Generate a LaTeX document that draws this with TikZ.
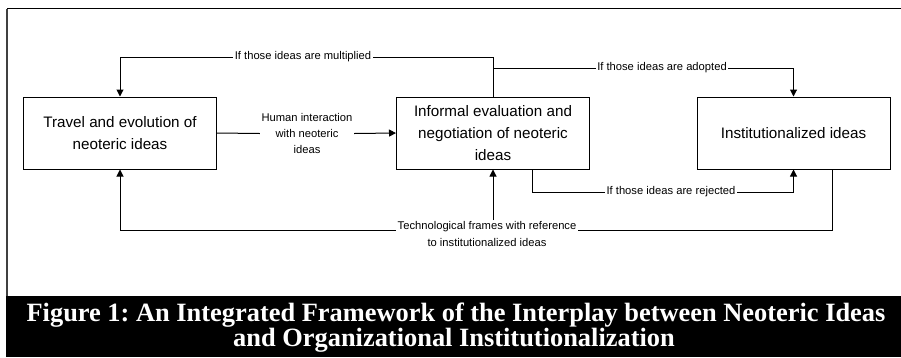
\documentclass[tikz,border=0pt]{standalone}
\usepackage{fontspec}
\setmainfont{Liberation Serif}
\newfontfamily\labelfont{Liberation Sans}
\usetikzlibrary{arrows.meta}
\frenchspacing

\begin{document}
\begin{tikzpicture}[x=1pt,y=-1pt,
  stagebox/.style={draw, line width=1pt, minimum width=193pt, minimum height=72pt,
    align=center, inner sep=0pt, font=\labelfont\fontsize{15.2}{22}\selectfont},
  flowlabel/.style={fill=white, inner sep=1.5pt, align=center,
    font=\labelfont\fontsize{11.2}{16.3}\selectfont},
  link/.style={line width=1pt},
  arr/.style={link, -{Triangle[length=7pt,width=7pt]}},
  captiontext/.style={text=white, anchor=base, inner sep=0pt,
    font=\bfseries\fontsize{26.4}{23}\selectfont}]

  \useasboundingbox (0,0) rectangle (901,357);

  % outer frame and caption band
  \draw[line width=1.5pt] (7,8.5) -- (901,8.5);
  \draw[line width=1.2pt, black!75] (7,8.5) -- (7,296);
  \fill[black] (6,296) rectangle (901,357);
  \node[captiontext] (cap1) at (456,321) {Figure 1: An Integrated Framework of the Interplay between Neoteric Ideas};
  \node[captiontext] (cap2) at (454,346) {and Organizational Institutionalization};

  % stages
  \node[stagebox] (A) at (120,133) {Travel and evolution of\\neoteric ideas};
  \node[stagebox] (B) at (493,133) {Informal evaluation and\\negotiation of neoteric\\ideas};
  \node[stagebox] (C) at (793.5,133) {Institutionalized ideas};

  % labels on the connectors
  \node[flowlabel] (mult) at (303,57) {If those ideas are multiplied};
  \node[flowlabel] (adopt) at (662,68) {If those ideas are adopted};
  \node[flowlabel] (human) at (307,133.5) {Human interaction\\with neoteric\\ideas};
  \node[flowlabel] (reject) at (671,192) {If those ideas are rejected};
  \node[flowlabel] (tech) at (487,234) {Technological frames with reference\\to institutionalized ideas};

  % multiplied: back to travel
  \draw[link] (B.north) |- (mult.east);
  \draw[arr] (mult.west) -| (A.north);
  % adopted: on to institutionalization
  \draw[link] (B.north |- adopt) -- (adopt.west);
  \draw[arr] (adopt.east) -| (C.north);
  % human interaction
  \draw[link] (A.east) -- (human.west);
  \draw[arr] (human.east) -- (B.west);
  % rejected
  \draw[link] ([xshift=39pt]B.south) |- (reject.west);
  \draw[arr] (reject.east) -| (C.south);
  % technological frames feedback
  \draw[link] ([xshift=38.5pt]C.south) |- ([yshift=4pt]tech.east);
  \draw[arr] ([yshift=4pt]tech.west) -| (A.south);
  \draw[arr] (tech.north -| B.south) -- (B.south);
\end{tikzpicture}
\end{document}
